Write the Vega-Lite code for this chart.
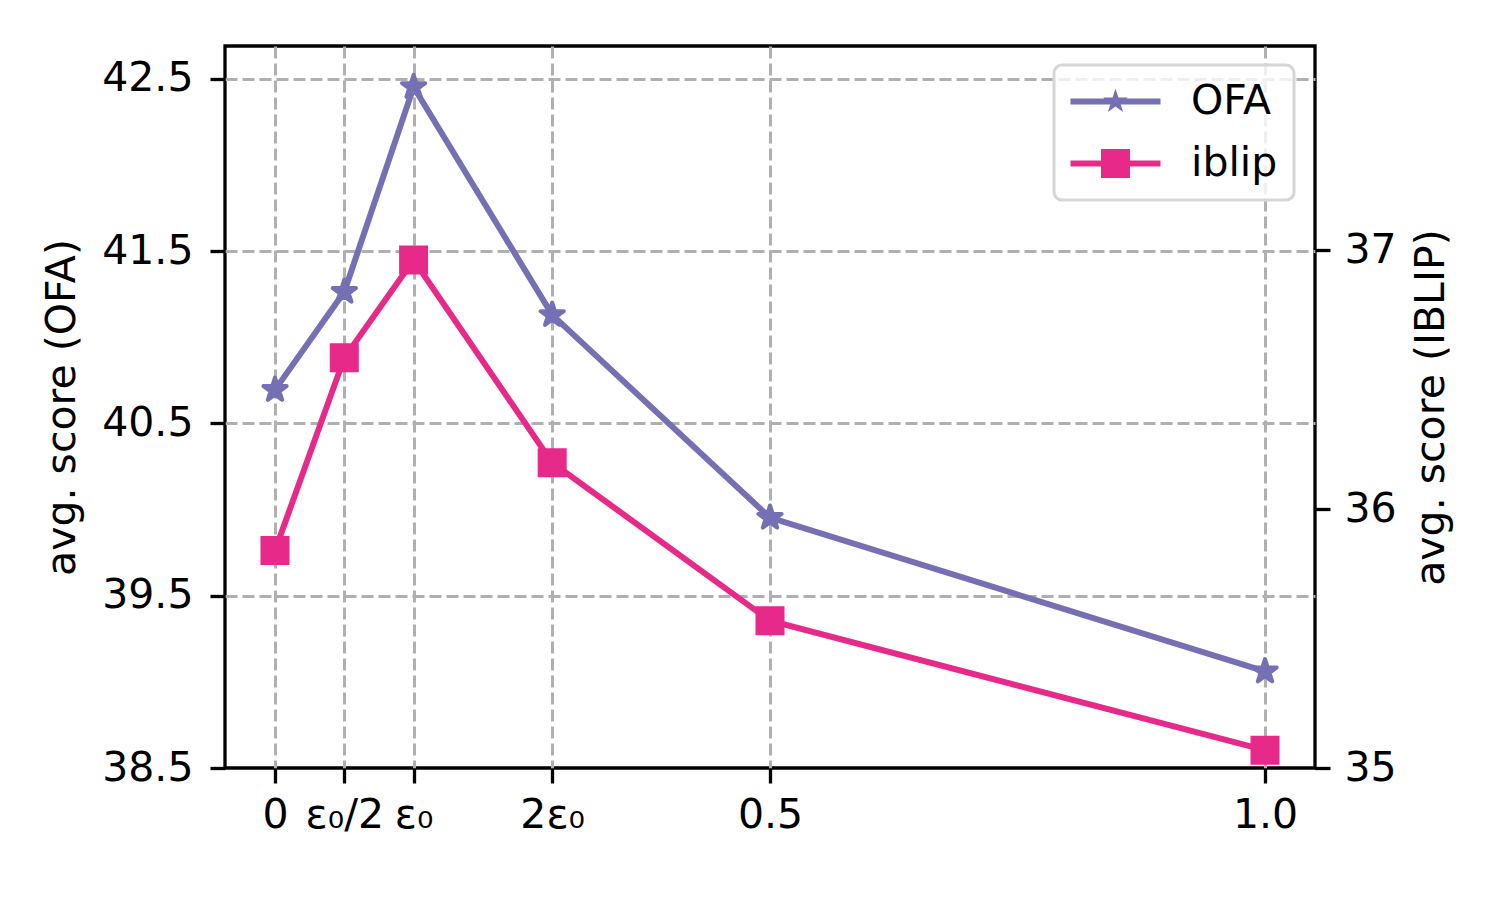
{
  "$schema": "https://vega.github.io/schema/vega-lite/v6.json",
  "width": 1090,
  "height": 722,
  "autosize": {"type": "none"},
  "padding": {"left": 225, "top": 46, "right": 185, "bottom": 132},
  "background": "white",
  "config": {
    "font": "DejaVu Sans",
    "view": {"stroke": "black", "strokeWidth": 3.3},
    "axis": {
      "labelFont": "DejaVu Sans",
      "labelFontSize": 41,
      "labelColor": "black",
      "titleFont": "DejaVu Sans",
      "titleFontSize": 41,
      "titleFontWeight": "normal",
      "titleColor": "black",
      "tickColor": "black",
      "tickWidth": 3.3,
      "tickSize": 15,
      "domain": false,
      "gridColor": "#b0b0b0",
      "gridWidth": 3,
      "gridDash": [12, 5]
    },
    "legend": {
      "orient": "none",
      "legendX": 829,
      "legendY": 19,
      "padding": 16,
      "symbolSize": 1600,
      "symbolStrokeWidth": 0,
      "symbolOpacity": 1,
      "labelFont": "DejaVu Sans",
      "labelFontSize": 41,
      "labelColor": "black",
      "labelOffset": 80,
      "rowPadding": 20,
      "strokeColor": "#d6d6d6",
      "strokeWidth": 3,
      "cornerRadius": 8,
      "fillColor": "rgba(255,255,255,0.8)"
    }
  },
  "datasets": {
    "d": [
      {"x": 0, "series": "OFA", "score": 40.695},
      {"x": 0.07, "series": "OFA", "score": 41.264},
      {"x": 0.14, "series": "OFA", "score": 42.453},
      {"x": 0.28, "series": "OFA", "score": 41.13},
      {"x": 0.5, "series": "OFA", "score": 39.953},
      {"x": 1, "series": "OFA", "score": 39.061},
      {"x": 0, "series": "iblip", "score": 35.84},
      {"x": 0.07, "series": "iblip", "score": 36.585},
      {"x": 0.14, "series": "iblip", "score": 36.963},
      {"x": 0.28, "series": "iblip", "score": 36.18},
      {"x": 0.5, "series": "iblip", "score": 35.569},
      {"x": 1, "series": "iblip", "score": 35.069}
    ]
  },
  "data": {"name": "d"},
  "encoding": {
    "x": {
      "field": "x",
      "type": "quantitative",
      "scale": {"domain": [-0.0505, 1.0505], "nice": false, "zero": false},
      "axis": {
        "values": [0, 0.07, 0.14, 0.28, 0.5, 1],
        "labelExpr": "datum.value == 0 ? '0' : datum.value == 0.07 ? 'ε₀/2' : datum.value == 0.14 ? 'ε₀' : datum.value == 0.28 ? '2ε₀' : datum.value == 0.5 ? '0.5' : '1.0'",
        "title": null,
        "grid": true,
        "labelAngle": 0,
        "labelPadding": 12,
        "labelFlush": false,
        "labelOverlap": false
      }
    }
  },
  "layer": [
    {
      "transform": [{"filter": "datum.series === 'OFA'"}],
      "encoding": {
        "y": {
          "field": "score",
          "type": "quantitative",
          "scale": {"domain": [38.5, 42.691], "nice": false, "zero": false},
          "axis": {
            "orient": "left",
            "values": [38.5, 39.5, 40.5, 41.5, 42.5],
            "format": ".1f",
            "title": "avg. score (OFA)",
            "grid": true,
            "gridOpacity": {"condition": {"test": "datum.value < 39", "value": 0}, "value": 1},
            "labelPadding": 17,
            "titlePadding": 18,
            "labelFlush": false,
            "labelOverlap": false
          }
        }
      },
      "layer": [
        {"mark": {"type": "line", "color": "#7570b3", "strokeWidth": 6}},
        {"mark": {"type": "point", "filled": true, "opacity": 1, "fill": "#7570b3", "stroke": "#7570b3", "strokeWidth": 4, "strokeJoin": "round", "size": 600, "shape": "M0,-1L0.2245,-0.309L0.9511,-0.309L0.3633,0.118L0.5878,0.809L0,0.382L-0.5878,0.809L-0.3633,0.118L-0.9511,-0.309L-0.2245,-0.309Z"}}
      ]
    },
    {
      "transform": [{"filter": "datum.series === 'iblip'"}],
      "encoding": {
        "y": {
          "field": "score",
          "type": "quantitative",
          "scale": {"domain": [35, 37.79], "nice": false, "zero": false},
          "axis": {
            "orient": "right",
            "values": [35, 36, 37],
            "format": "d",
            "title": "avg. score (IBLIP)",
            "titleAngle": 270,
            "titleBaseline": "top",
            "grid": false,
            "labelPadding": 14,
            "titlePadding": 15,
            "labelFlush": false,
            "labelOverlap": false
          }
        }
      },
      "layer": [
        {"mark": {"type": "line", "color": "#e7298a", "strokeWidth": 6}},
        {"mark": {"type": "point", "filled": true, "opacity": 1, "fill": "#e7298a", "stroke": "#e7298a", "strokeWidth": 4, "size": 625, "shape": "square"}}
      ]
    },
    {
      "mark": {"type": "point", "filled": true, "opacity": 1, "size": 0},
      "encoding": {
        "color": {
          "field": "series",
          "type": "nominal",
          "scale": {"domain": ["OFA", "iblip"], "range": ["#7570b3", "#e7298a"]},
          "legend": {"title": null, "encode": {"symbols": {"update": {"opacity": {"value": 1}}}}}
        },
        "shape": {
          "field": "series",
          "type": "nominal",
          "scale": {
            "domain": ["OFA", "iblip"],
            "range": [
              "M-1,-0.15H3.5V0.15H-1ZM1.25,-0.65L1.396,-0.201L1.868,-0.201L1.486,0.077L1.632,0.526L1.25,0.248L0.868,0.526L1.014,0.077L0.632,-0.201L1.104,-0.201Z",
              "M-1,-0.15H3.5V0.15H-1ZM0.525,-0.725H1.975V0.725H0.525Z"
            ]
          },
          "legend": {"title": null, "encode": {"symbols": {"update": {"opacity": {"value": 1}}}}}
        }
      }
    }
  ],
  "resolve": {"scale": {"y": "independent"}}
}
